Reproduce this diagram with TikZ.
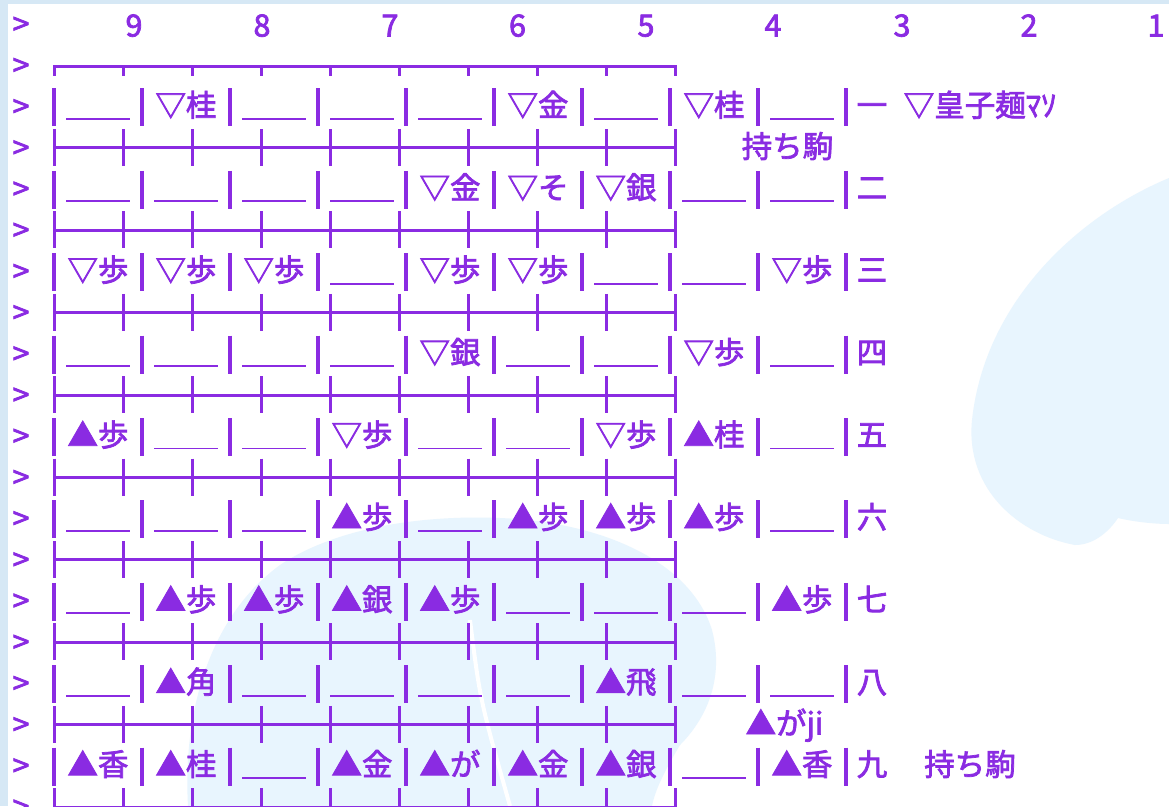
\documentclass[tikz,border=0pt]{standalone}
\usepackage{fontspec}
\newfontfamily\jp[FakeBold=2.4]{Noto Sans CJK JP}
\definecolor{vio}{RGB}{138,43,226}
\definecolor{blobblue}{RGB}{232,245,254}
\definecolor{edgeblue}{RGB}{214,232,245}
\def\blankcell{x}
\tikzset{
  txt/.style={text=vio, font=\jp\fontsize{30.5}{30.5}\selectfont, inner sep=0pt, anchor=base},
  barline/.style={draw=vio, line width=3.1pt},
  gridline/.style={draw=vio, line width=3pt},
  usline/.style={draw=vio, line width=1.8pt}
}
% #1 row number, #2 row label, #3 cells
\newcommand\shogirow[3]{%
  \pgfmathsetmacro\cy{26+82.4*#1}%
  \foreach \cell [count=\i from 0] in {#3} {
    \pgfmathsetmacro\bx{54+88*\i}
    \draw[barline] (\bx,\cy-20) -- (\bx,\cy+18);
    \ifx\cell\blankcell
      \draw[usline] (\bx+12,\cy+10.5) -- (\bx+76,\cy+10.5);
    \else
      \node[txt] (p#1-\i) at (\bx+44,\cy+8) {\cell};
    \fi
  }
  \draw[barline] (846,\cy-20) -- (846,\cy+18);
  \node[txt] (lab#1) at (872,\cy+8) {#2};
}
% #1 line index k (odd)
\newcommand\sepline[1]{%
  \pgfmathsetmacro\sy{26+41.2*#1}%
  \draw[gridline] (54,\sy-1.8) -- (675,\sy-1.8);
  \foreach \j in {0,...,9} {
    \draw[gridline] (54+69*\j,\sy-20.6) -- (54+69*\j,\sy+16.4);
  }
}
\begin{document}
\begin{tikzpicture}[x=1pt,y=-1pt]
\useasboundingbox (0,0) rectangle (1169,806);
\clip (0,0) rectangle (1169,806);
% background
\fill[edgeblue] (0,0) rectangle (1169,806);
\fill[white] (8,4) rectangle (1169,806);
% pale blobs
\fill[blobblue] (1169,178) .. controls (1080,215) and (985,300) .. (972,420)
  .. controls (965,490) and (1020,535) .. (1075,545)
  .. controls (1095,545) and (1110,530) .. (1118,518)
  .. controls (1135,522) and (1155,524) .. (1169,524) -- cycle;
\fill[blobblue] (188,806) .. controls (183,720) and (205,620) .. (280,565)
  .. controls (340,525) and (430,515) .. (500,518)
  .. controls (600,522) and (690,560) .. (712,630)
  .. controls (725,680) and (705,720) .. (680,745)
  .. controls (665,770) and (655,790) .. (652,806) -- cycle;
\draw[white, line width=4pt] (470,620) .. controls (480,700) .. (510,806);
% prompt column
\foreach \k in {0,...,19} {
  \node[txt] (gt\k) at (21,26+41.2*\k+9) {>};
}
% column numbers
\foreach \d/\xx in {9/134,8/262,7/390,6/517.5,5/646,4/773,3/902,2/1029,1/1156} {
  \node[txt] (col\d) at (\xx,36.5) {\d};
}
% top border
\draw[gridline] (54,66.5) -- (675,66.5);
\foreach \j in {0,...,9} {
  \draw[gridline] (54+69*\j,65) -- (54+69*\j,76);
}
% separators
\foreach \k in {3,5,7,9,11,13,15,17,19} { \sepline{\k} }
% rows
\shogirow{1}{一}{x,▽桂,x,x,x,▽金,x,▽桂,x}
\shogirow{2}{二}{x,x,x,x,▽金,▽そ,▽銀,x,x}
\shogirow{3}{三}{▽歩,▽歩,▽歩,x,▽歩,▽歩,x,x,▽歩}
\shogirow{4}{四}{x,x,x,x,▽銀,x,x,▽歩,x}
\shogirow{5}{五}{▲歩,x,x,▽歩,x,x,▽歩,▲桂,x}
\shogirow{6}{六}{x,x,x,▲歩,x,▲歩,▲歩,▲歩,x}
\shogirow{7}{七}{x,▲歩,▲歩,▲銀,▲歩,x,x,x,▲歩}
\shogirow{8}{八}{x,▲角,x,x,x,x,▲飛,x,x}
\shogirow{9}{九}{▲香,▲桂,x,▲金,▲が,▲金,▲銀,x,▲香}
% side texts
\node[txt] (gote) at (980,116.4) {▽皇子麺ﾏｿ};
\node[txt] (gotehand) at (787.5,157.6) {持ち駒};
\node[txt] (senteextra) at (784.5,734.4) {▲がji};
\node[txt] (sentehand) at (970,775.6) {持ち駒};
\end{tikzpicture}
\end{document}
